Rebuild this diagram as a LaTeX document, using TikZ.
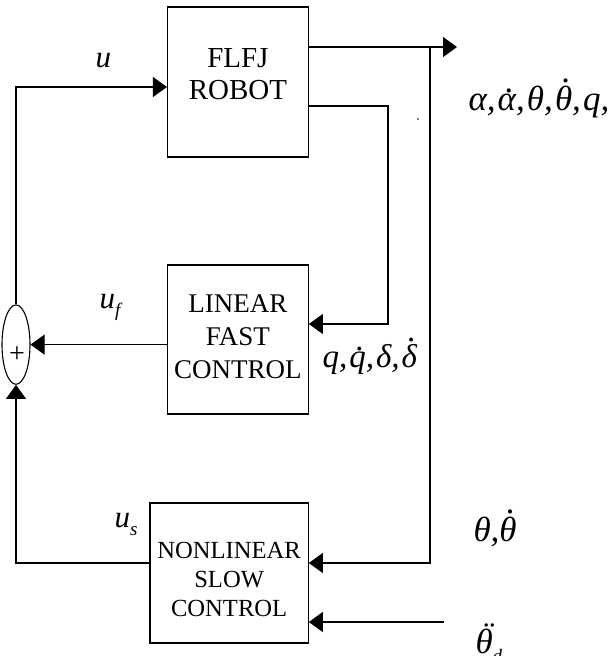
\documentclass[tikz,border=0pt]{standalone}
\usepackage{fontspec}
\setmainfont{Liberation Serif}
\usetikzlibrary{arrows.meta,calc,shapes.geometric}
\newcommand\dacc[2][0.5em]{{\ooalign{#2\cr\hidewidth\kern0.16em\raisebox{#1}{.}\hidewidth\cr}}}
\newcommand\ddacc[2][0.2em]{{\ooalign{#2\cr\hidewidth\kern0.16em\raisebox{#1}{¨}\hidewidth\cr}}}
\newcommand\sbs[1]{\raisebox{-0.28em}{\fontsize{19}{19}\selectfont #1}}
\newcommand\cma{,\kern0.06em}
\begin{document}
\begin{tikzpicture}[x=1pt,y=-1pt,line width=1.1pt,
  blk/.style={draw,rectangle,inner sep=0},
  arr/.style={-{Triangle[length=14pt,width=20pt]}},
  lbl/.style={font=\fontsize{31}{34}\selectfont\itshape,inner sep=0,anchor=base west},
  glbl/.style={lbl,font=\fontsize{35}{38}\selectfont\itshape}]
\useasboundingbox (0,0) rectangle (608,656);
% blocks
\node[blk,minimum width=140.8pt,minimum height=150pt] (robot) at (237.9,82) {};
\node[align=center,inner sep=0,font=\fontsize{29}{32}\selectfont] (robottxt) at (237.9,74) {FLFJ\\ROBOT};
\node[blk,minimum width=140.8pt,minimum height=149pt] (linear) at (237.9,339.5) {};
\node[align=center,inner sep=0,font=\fontsize{27}{33}\selectfont] (lineartxt) at (237.9,337) {LINEAR\\FAST\\CONTROL};
\node[blk,minimum width=158.3pt,minimum height=140pt] (nonlin) at (229.15,573) {};
\node[align=center,inner sep=0,font=\fontsize{24.6}{29}\selectfont] (nonlintxt) at (229.15,579) {NONLINEAR\\SLOW\\CONTROL};
\node[draw,ellipse,minimum width=28pt,minimum height=79.4pt,inner sep=0] (sum) at (16,344.6) {};
\node[inner sep=0,font=\fontsize{28}{30}\selectfont] (plus) at (17,355) {+};
% coordinates
\coordinate (tip) at (457,47);
\coordinate (j1) at (430,47);
\coordinate (c1) at (430,563);
\coordinate (r2) at (388,106);
\coordinate (r3) at (388,324);
\coordinate (uin) at (16,87);
\coordinate (lb) at (16,563);
\coordinate (td) at (444,622);
% connectors
\draw[arr] (robot.east |- tip) -- (tip);
\draw[arr] (j1) -- (c1) -- (nonlin.east |- c1);
\draw[arr] (robot.east |- r2) -- (r2) -- (r3) -- (linear.east |- r3);
\draw[arr] (sum.north) -- (uin) -- (robot.west |- uin);
\draw[arr] (linear.west |- sum.east) -- (sum.east);
\draw[arr] (nonlin.west |- lb) -- (lb) -- (sum.south);
\draw[arr] (td) -- (nonlin.east |- td);
\fill (418,119) circle (0.9pt);
% labels
\node[lbl] (lu) at (95,67) {u};
\node[lbl] (luf) at (99,308) {u\sbs{f}};
\node[lbl] (lus) at (114,527) {u\sbs{s}};
\node[glbl] (lall) at (468,110) {α\cma\dacc{α}\cma θ\cma\dacc[0.78em]{θ}\cma q\cma\dacc{q}\cma δ\cma\dacc[0.78em]{δ}};
\node[glbl,font=\fontsize{33}{36}\selectfont\itshape] (lq) at (322,367) {q\cma\dacc{q}\cma δ\cma\dacc[0.78em]{δ}};
\node[glbl] (lth) at (473,541) {θ,\dacc[0.78em]{θ}};
\node[glbl] (lthd) at (475,653) {\ddacc{θ}\sbs{d}};
\end{tikzpicture}
\end{document}
